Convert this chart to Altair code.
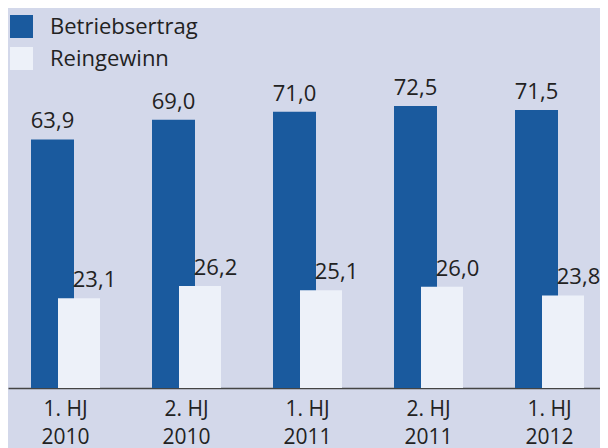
import altair as alt
import pandas as pd

periods = ["1. HJ\n2010", "2. HJ\n2010", "1. HJ\n2011", "2. HJ\n2011", "1. HJ\n2012"]
betriebsertrag = [63.9, 69.0, 71.0, 72.5, 71.5]
reingewinn = [23.1, 26.2, 25.1, 26.0, 23.8]
series_names = ["Betriebsertrag", "Reingewinn"]
colors = ["#1a5a9e", "#edf1f9"]

rows = []
for p, a, b in zip(periods, betriebsertrag, reingewinn):
    rows.append({"period": p, "series": series_names[0], "value": a,
                 "label": f"{a:.1f}".replace(".", ",")})
    rows.append({"period": p, "series": series_names[1], "value": b,
                 "label": f"{b:.1f}".replace(".", ",")})
df = pd.DataFrame(rows)

FONT = "Open Sans"
TXT = "#222222"

x = alt.X("period:N", sort=periods, title=None,
          scale=alt.Scale(paddingInner=0, paddingOuter=0, range=[0, 605]),
          axis=alt.Axis(labelExpr="split(datum.label, '\\n')", labelAngle=0,
                        ticks=False, labelFontSize=21, labelColor=TXT,
                        labelFont=FONT, labelLineHeight=28, labelPadding=10,
                        labelOffset=-3, domainColor="#444444", domainWidth=1.5,
                        grid=False))
y = alt.Y("value:Q", scale=alt.Scale(domain=[0, 97.7], nice=False, zero=True), axis=None)
color = alt.Color("series:N", scale=alt.Scale(domain=series_names, range=colors),
                  legend=alt.Legend(title=None, orient="none", legendX=2, legendY=7,
                                    symbolType="square", symbolSize=529,
                                    symbolStrokeWidth=0, labelFontSize=22,
                                    labelFont=FONT, labelColor=TXT, labelOffset=17,
                                    rowPadding=9, padding=0))

base = alt.Chart(df)

dark = base.transform_filter(alt.datum.series == series_names[0]).mark_bar(
    xOffset=-16, width=43).encode(x=x, y=y, color=color)
light = base.transform_filter(alt.datum.series == series_names[1]).mark_bar(
    xOffset=10.5, width=42).encode(x=x, y=y, color=color)

dark_lbl = base.transform_filter(alt.datum.series == series_names[0]).mark_text(
    xOffset=-16, dy=-11, baseline="alphabetic", fontSize=22, font=FONT, color=TXT
).encode(x=x, y=y, text="label:N")
light_lbl = base.transform_filter(alt.datum.series == series_names[1]).mark_text(
    xOffset=26, dy=-11, baseline="alphabetic", fontSize=22, font=FONT, color=TXT
).encode(x=x, y=y, text="label:N")

chart = alt.layer(dark, light, dark_lbl, light_lbl).properties(
    width=592, height=380,
    autosize=alt.AutoSizeParams(type="none"),
    padding={"left": 0, "top": 0, "right": 0, "bottom": 60},
    background="#d3d8ea",
).configure_view(stroke=None)

chart.save("out.html", embed_options={"renderer": "svg", "actions": False})
